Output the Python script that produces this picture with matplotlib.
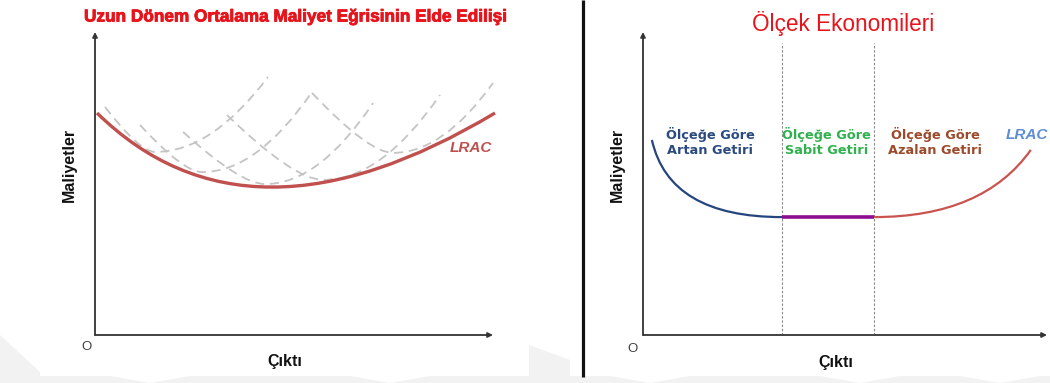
import matplotlib
matplotlib.use("Agg")
import matplotlib.pyplot as plt
from matplotlib.path import Path
from matplotlib.patches import PathPatch, Polygon
import matplotlib.patheffects as pe

# ---------------------------------------------------------------------------
# Left panel: long-run average cost (LRAC) as the envelope of short-run curves
# (output on x, cost on y, both in arbitrary units 0-100)
# ---------------------------------------------------------------------------
lrac_start = (0.5, 74.0)
lrac_bend = (38.25, 24.6)          # quadratic control point
lrac_end = (100.0, 74.0)

srac_left_ends = [(2.5, 76.0), (11.25, 70.0), (22.0, 67.7), (33.0, 73.3), (54.25, 80.7)]
srac_minima = [(15.0, 61.0), (26.75, 54.3), (42.5, 50.3), (57.0, 51.7), (74.5, 60.7)]
srac_right_ends = [(43.25, 86.0), (54.25, 81.0), (69.5, 77.3), (86.25, 80.0), (99.5, 84.0)]

# ---------------------------------------------------------------------------
# Right panel: economies of scale along the LRAC
# ---------------------------------------------------------------------------
scale_bounds = [34.4, 57.2]        # output where returns become constant / decreasing
flat_cost = 39.3
falling_start = (2.2, 65.0)
falling_ctrl_x = 6.5
rising_end = (96.0, 61.7)
rising_ctrl_x = 84.2
region_labels = ["Ölçeğe Göre\nArtan Getiri", "Ölçeğe Göre\nSabit Getiri", "Ölçeğe Göre\nAzalan Getiri"]
region_colors = ["#2b4a80", "#2fb14e", "#9c4a2b"]

W, H = 1050, 383
fig = plt.figure(figsize=(W / 100, H / 100), dpi=100)
fig.patch.set_facecolor("white")

# background layer in pixel units (separator and faint footer pattern)
bg = fig.add_axes([0, 0, 1, 1], zorder=0)
bg.set_xlim(0, W)
bg.set_ylim(H, 0)
bg.axis("off")
wm = "#f2f2f2"
bg.add_patch(Polygon([(0, 376), (W, 376), (W, H), (0, H)], closed=True, fc=wm, ec="none"))
bg.add_patch(Polygon([(0, 335), (40, 372), (40, 383), (0, 383)], closed=True, fc=wm, ec="none"))
bg.add_patch(Polygon([(529, 345), (570, 360), (570, 383), (529, 383)], closed=True, fc=wm, ec="none"))
for cx in [150, 390, 650, 860, 1000]:
    bg.add_patch(Polygon([(cx - 40, 376), (cx + 40, 376), (cx, 383)], closed=True, fc="white", ec="none"))
bg.plot([583, 583], [0, 377], color="#111111", lw=2.3, solid_capstyle="butt")


def panel(px0, px1, ox, oy, sx, sy):
    ax = fig.add_axes([px0 / W, 0, (px1 - px0) / W, 1], zorder=1)
    ax.set_xlim((px0 - ox) / sx, (px1 - ox) / sx)
    ax.set_ylim((oy - H) / sy, oy / sy)
    ax.patch.set_alpha(0)
    ax.axis("off")
    return ax


def axes_arrows(ax, xmax, ymax):
    kw = dict(arrowstyle="-|>", color="#333333", lw=1.3, mutation_scale=7,
              shrinkA=0, shrinkB=0)
    ax.annotate("", xy=(xmax, 0), xytext=(0, 0), arrowprops=kw)
    ax.annotate("", xy=(0, ymax), xytext=(0, 0), arrowprops=kw)


def half_u(p0, ctrl, p1):
    return Path([p0, ctrl, p1], [Path.MOVETO, Path.CURVE3, Path.CURVE3])


bold = dict(family="Liberation Sans", fontweight="bold", color="#111111")

# ---------------------------- left panel ----------------------------------
ax1 = panel(0, 530, 95, 335, 4.0, 3.0)
axes_arrows(ax1, 99.5, 101)

for L, M, R in zip(srac_left_ends, srac_minima, srac_right_ends):
    c1 = (M[0] - 0.3 * (M[0] - L[0]), M[1])
    c2 = (M[0] + 0.5 * (R[0] - M[0]), M[1])
    path = Path([L, c1, M, c2, R],
                [Path.MOVETO, Path.CURVE3, Path.CURVE3, Path.CURVE3, Path.CURVE3])
    ax1.add_patch(PathPatch(path, fc="none", ec="#c4c4c4", lw=1.3,
                            ls=(0, (5.0, 3.2)), zorder=2))

ax1.add_patch(PathPatch(half_u(lrac_start, lrac_bend, lrac_end), fc="none",
                        ec="#c0504d", lw=2.4, zorder=3))

ax1.text(50.25, 106, "Uzun Dönem Ortalama Maliyet Eğrisinin Elde Edilişi",
         ha="center", va="center", fontsize=12.4, fontweight="bold",
         family="Liberation Sans", color="#e8141c",
         path_effects=[pe.withStroke(linewidth=0.6, foreground="#e8141c")])
ax1.text(94, 62.3, "LRAC", ha="center", va="center", fontsize=11,
         fontstyle="italic", fontweight="bold", family="Liberation Sans", color="#c0504d")
ax1.text(-6.5, 56.7, "Maliyetler", rotation=90, ha="center", va="center", fontsize=11.5, **bold)
ax1.text(47.5, -8.7, "Çıktı", ha="center", va="center", fontsize=11.5, **bold)
ax1.text(-2.25, -4.0, "O", ha="center", va="center", fontsize=9.5,
         family="Liberation Sans", color="#404040")

# ---------------------------- right panel ---------------------------------
ax2 = panel(530, 1050, 643, 335, 4.04, 3.0)
axes_arrows(ax2, 100, 101)

for xb in scale_bounds:
    ax2.plot([xb, xb], [0, 97.3], color="#8a8a8a", lw=0.8, ls=(0, (2.2, 1.6)), zorder=2)

ax2.add_patch(PathPatch(half_u(falling_start, (falling_ctrl_x, flat_cost),
                               (scale_bounds[0], flat_cost)),
                        fc="none", ec="#24457e", lw=1.6, zorder=3))
ax2.plot(scale_bounds, [flat_cost, flat_cost], color="#8b0f8f", lw=2.6,
         solid_capstyle="butt", zorder=3)
ax2.add_patch(PathPatch(half_u((scale_bounds[1], flat_cost), (rising_ctrl_x, flat_cost),
                               rising_end),
                        fc="none", ec="#c9544f", lw=1.6, zorder=3))

for xc, lab, col in zip([16.6, 45.5, 72.3], region_labels, region_colors):
    ax2.text(xc, 64.3, lab, ha="center", va="center", multialignment="center",
             fontsize=9.3, fontweight="bold", family="DejaVu Sans", color=col,
             linespacing=1.25)

ax2.text(49.5, 104, "Ölçek Ekonomileri", ha="center", va="center", fontsize=16.3,
         family="Liberation Sans", color="#e8141c")
ax2.text(95, 66.7, "LRAC", ha="center", va="center", fontsize=11,
         fontstyle="italic", fontweight="bold", family="Liberation Sans", color="#5b8ed3")
ax2.text(-6.4, 56.7, "Maliyetler", rotation=90, ha="center", va="center", fontsize=11.5, **bold)
ax2.text(47.8, -9.0, "Çıktı", ha="center", va="center", fontsize=11.5, **bold)
ax2.text(-2.7, -4.7, "O", ha="center", va="center", fontsize=9.5,
         family="Liberation Sans", color="#404040")

fig.savefig("out.png", dpi=100, facecolor="white")
